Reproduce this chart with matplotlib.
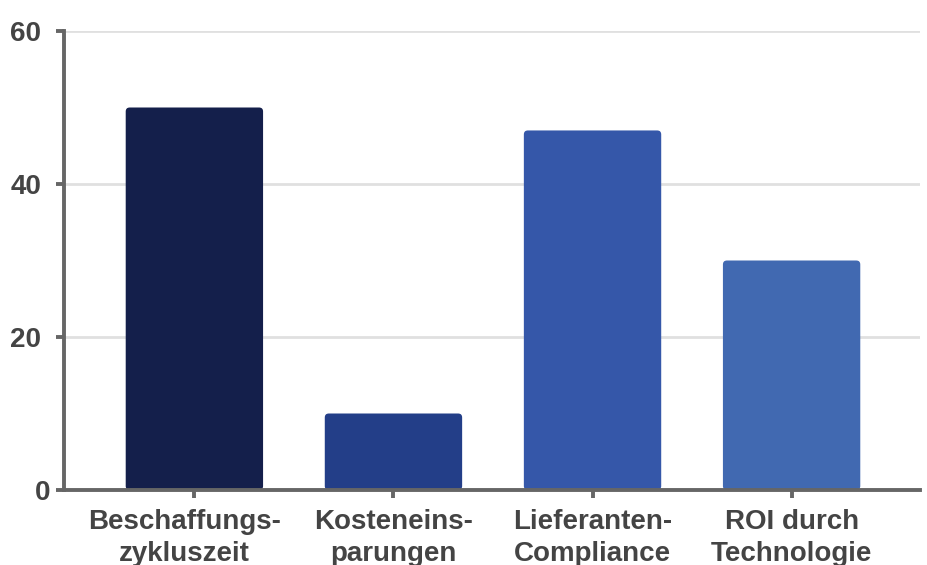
import numpy as np
import matplotlib
matplotlib.use("Agg")
import matplotlib.pyplot as plt
import matplotlib.transforms as mtransforms
from matplotlib.patches import FancyBboxPatch

categories = ["Beschaffungs-\nzykluszeit", "Kosteneins-\nparungen",
              "Lieferanten-\nCompliance", "ROI durch\nTechnologie"]
values = [50, 10, 47, 30]
colors = ["#141f4b", "#233e88", "#3557a9", "#4169b1"]
y_ticks = [0, 20, 40, 60]

plt.rcParams["font.family"] = ["Liberation Sans", "DejaVu Sans"]
plt.rcParams["font.weight"] = "bold"

W, H = 927, 565
fig = plt.figure(figsize=(W / 100, H / 100), dpi=100)
ax = fig.add_axes([64 / W, (H - 490) / H, (920 - 64) / W, (490 - 31) / H])

x = np.arange(len(categories))
bw = 0.69
ax.set_xlim(-0.655, 3.645)
ax.set_ylim(0, 60)

# px -> data aspect for rounded corners
px_x = (ax.get_xlim()[1] - ax.get_xlim()[0]) / (920 - 64)
px_y = 60 / (490 - 31)
for xi, v, c in zip(x, values, colors):
    p = FancyBboxPatch((xi - bw / 2, 0), bw, v,
                       boxstyle=f"round,pad=0,rounding_size={4 * px_x}",
                       mutation_aspect=px_y / px_x,
                       facecolor=c, edgecolor="none", zorder=2)
    ax.add_patch(p)

ax.set_yticks(y_ticks)
ax.set_xticks(x)
ax.set_xticklabels(categories)
ax.grid(axis="y", color="#e0e0e0", linewidth=2, zorder=0)
ax.set_axisbelow(True)

for s in ["top", "right"]:
    ax.spines[s].set_visible(False)
for s in ["left", "bottom"]:
    ax.spines[s].set_color("#666666")
    ax.spines[s].set_linewidth(2.8)
    ax.spines[s].set_zorder(3)

ax.tick_params(axis="both", colors="#666666", width=2.8, length=6,
               labelcolor="#444444", labelsize=20)
ax.tick_params(axis="x", pad=8)
ax.tick_params(axis="y", pad=10.5)
for lbl in ax.get_xticklabels() + ax.get_yticklabels():
    lbl.set_fontweight("bold")
for lbl in ax.get_xticklabels():
    lbl.set_linespacing(1.3)

# small label nudges seen in the reference
xl = ax.get_xticklabels()
xl[0].set_transform(xl[0].get_transform() + mtransforms.ScaledTranslation(-10 / 100, 0, fig.dpi_scale_trans))
yl = ax.get_yticklabels()
yl[0].set_transform(yl[0].get_transform() + mtransforms.ScaledTranslation(9 / 100, 0, fig.dpi_scale_trans))

fig.savefig("out.png", dpi=100)
